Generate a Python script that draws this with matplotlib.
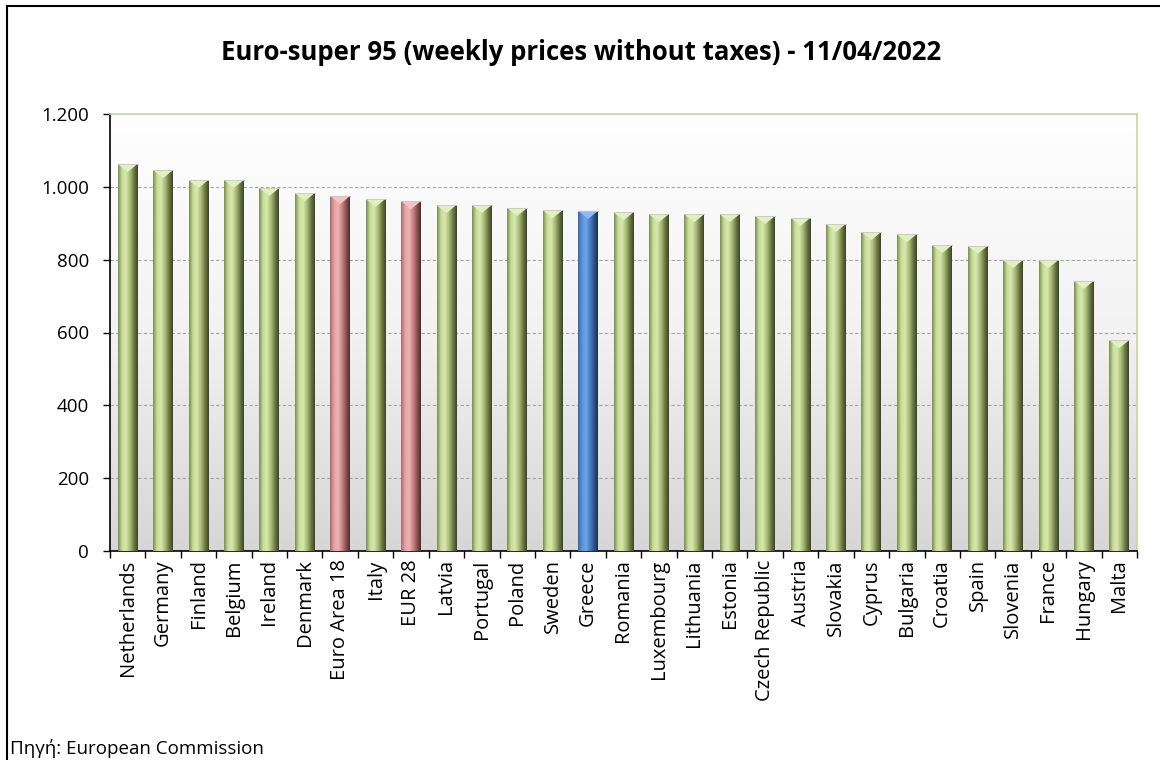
import numpy as np
import matplotlib
matplotlib.use("Agg")
import matplotlib.pyplot as plt
from matplotlib.colors import LinearSegmentedColormap
from matplotlib.patches import Rectangle

countries = ["Netherlands", "Germany", "Finland", "Belgium", "Ireland", "Denmark",
             "Euro Area 18", "Italy", "EUR 28", "Latvia", "Portugal", "Poland",
             "Sweden", "Greece", "Romania", "Luxembourg", "Lithuania", "Estonia",
             "Czech Republic", "Austria", "Slovakia", "Cyprus", "Bulgaria", "Croatia",
             "Spain", "Slovenia", "France", "Hungary", "Malta"]
prices = [1063, 1046, 1019, 1019, 997, 983, 975, 967, 961, 950, 950, 942,
          936, 934, 930, 925, 925, 925, 920, 915, 898, 876, 870, 840,
          838, 799, 799, 742, 579]
kinds = ["g"] * len(countries)
kinds[countries.index("Euro Area 18")] = "r"
kinds[countries.index("EUR 28")] = "r"
kinds[countries.index("Greece")] = "b"
yticks = [0, 200, 400, 600, 800, 1000, 1200]
ytick_labels = ["0", "200", "400", "600", "800", "1.000", "1.200"]

plt.rcParams['font.family'] = ['Open Sans', 'DejaVu Sans']

fig = plt.figure(figsize=(11.6, 7.6), dpi=100)
# outer frame
fig.patches.append(Rectangle((7/1160, -0.01), 1.2, 1 - 6/760 + 0.01, transform=fig.transFigure,
                             fill=False, edgecolor='black', linewidth=1.5))

ax = fig.add_axes([110/1160, 1 - 551/760, (1137-110)/1160, (551-114)/760])
n = len(countries)
ax.set_xlim(-0.5, n - 0.5)
ax.set_ylim(0, 1200)

# background gradient
bg = np.linspace(0.85, 1.0, 256).reshape(-1, 1)
bg_cmap = LinearSegmentedColormap.from_list("bg", ["#d6d6d6", "#f2f2f2", "#ffffff"])
ax.imshow(bg, cmap=bg_cmap, aspect='auto', extent=(-0.5, n - 0.5, 0, 1200),
          origin='lower', zorder=0)

ax.set_yticks(yticks)
ax.set_yticklabels(ytick_labels, fontsize=13.5)
for y in yticks[1:-1]:
    ax.axhline(y, color='#a6a6a6', linestyle=(0, (3, 2)), linewidth=0.8, zorder=1)

cmaps = {
    "g": LinearSegmentedColormap.from_list("g", ["#7d8c52", "#c9dc98", "#d8e8ae", "#aabd78", "#6f7d46", "#3c4526"]),
    "r": LinearSegmentedColormap.from_list("r", ["#a96a6a", "#e3a3a3", "#eeb3b3", "#c88686", "#8f5555", "#4f2c2c"]),
    "b": LinearSegmentedColormap.from_list("b", ["#3a67a6", "#5d93d8", "#6fa3e4", "#4b7fc4", "#2f568f", "#1a3152"]),
}
tops = {"g": "#e2efc0", "r": "#f3c4c4", "b": "#8dbbf0"}

w = 0.56
grad = np.linspace(0, 1, 64).reshape(1, -1)
bars = ax.bar(range(n), prices, width=w, color='none', edgecolor='none', zorder=2)
for i, (b, k, v) in enumerate(zip(bars, kinds, prices)):
    im = ax.imshow(grad, cmap=cmaps[k], aspect='auto',
                   extent=(i - w/2, i + w/2, 0, v), zorder=3)
    im.set_clip_path(b)
    # top chevron
    h = 22
    tri = plt.Polygon([(i - w/2, v), (i + w/2, v), (i, v - h)], closed=True,
                      facecolor=tops[k], edgecolor='none', zorder=4)
    ax.add_patch(tri)
    ax.plot([i - w/2, i + w/2], [v, v], color='#c8c8c8', linewidth=0.6, zorder=4)

ax.set_xticks(range(n))
ax.set_xticklabels(countries, rotation=90, fontsize=14.5)
ax.set_xticks(np.arange(-0.5, n, 1), minor=True)
ax.tick_params(axis='x', which='major', length=0, pad=6)
ax.tick_params(axis='x', which='minor', length=5, width=1, color='black', direction='out')
ax.tick_params(axis='y', length=5, width=1, direction='out', pad=10)

for s in ['top', 'right']:
    ax.spines[s].set_color('#c4d79b')
    ax.spines[s].set_linewidth(1.2)
for s in ['left', 'bottom']:
    ax.spines[s].set_color('black')
    ax.spines[s].set_linewidth(1.2)

fig.text(581/1160, 1 - 52/760, "Euro-super 95 (weekly prices without taxes) - 11/04/2022",
         ha='center', va='center', fontsize=18.5, fontweight='bold')
fig.text(10/1160, 1 - 748/760, "Πηγή: European Commission", ha='left', va='center', fontsize=13.5)

fig.savefig("out.png", dpi=100)
